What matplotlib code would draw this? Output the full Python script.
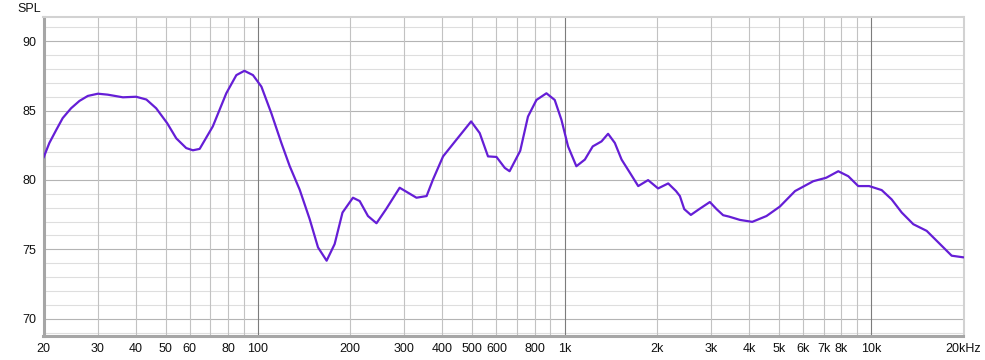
import matplotlib
matplotlib.use("Agg")
import matplotlib.pyplot as plt

# frequency response (Hz, dB SPL)
freq = [20, 20.9, 22.0, 23.1, 24.6, 26.2, 27.9, 30.1, 32.4, 36.3, 40.1, 43.3,
        46.6, 50.6, 54.2, 58.4, 61.4, 64.6, 71.3, 78.9, 85.1, 90.4, 96.4,
        102.7, 110.7, 119.3, 127, 136.9, 147.6, 157.1, 167.6, 178, 188.8,
        204.2, 214.8, 228.6, 243.7, 262, 290, 308.9, 329, 355, 372.6, 401.8,
        444, 496, 529, 563, 600, 638.6, 662, 717, 760, 810, 873, 929, 977,
        1027, 1093, 1165, 1236, 1320, 1387, 1459, 1535, 1634, 1739, 1873,
        2019, 2178, 2310, 2378, 2457, 2582, 2750, 2978, 3131, 3290, 3437,
        3733, 4094, 4556, 5036, 5646, 6473, 7134, 7810, 8420, 9074, 9846,
        10820, 11660, 12580, 13720, 15170, 16760, 18300, 20000]
spl = [81.6, 82.67, 83.6, 84.46, 85.17, 85.7, 86.06, 86.22, 86.15, 85.96, 86.0,
       85.8, 85.17, 84.1, 83.0, 82.3, 82.14, 82.24, 83.86, 86.25, 87.56, 87.87,
       87.56, 86.73, 84.8, 82.67, 81.0, 79.3, 77.17, 75.14, 74.18, 75.38,
       77.65, 78.72, 78.48, 77.4, 76.88, 77.9, 79.44, 79.08, 78.72, 78.84,
       80.04, 81.7, 82.9, 84.22, 83.38, 81.7, 81.66, 80.87, 80.63, 82.1, 84.57,
       85.77, 86.25, 85.77, 84.34, 82.42, 80.99, 81.47, 82.42, 82.78, 83.33,
       82.67, 81.47, 80.52, 79.56, 79.99, 79.39, 79.75, 79.2, 78.84, 77.9,
       77.48, 77.9, 78.41, 77.9, 77.46, 77.36, 77.12, 76.98, 77.4, 78.08,
       79.2, 79.91, 80.16, 80.63, 80.27, 79.56, 79.56, 79.27, 78.6, 77.65,
       76.81, 76.33, 75.38, 74.54, 74.42]

xtick_pos = [20, 30, 40, 50, 60, 80, 100, 200, 300, 400, 500, 600, 800,
             1000, 2000, 3000, 4000, 5000, 6000, 7000, 8000, 10000, 20000]
xtick_lbl = ["20", "30", "40", "50", "60", "80", "100", "200", "300", "400",
             "500", "600", "800", "1k", "2k", "3k", "4k", "5k", "6k", "7k",
             "8k", "10k", "20kHz"]
ytick_pos = [70, 75, 80, 85, 90]

plt.rcParams["font.family"] = ["Liberation Sans", "DejaVu Sans"]
plt.rcParams["font.size"] = 9

fig = plt.figure(figsize=(9.85, 3.6), dpi=100)
ax = fig.add_axes([43.5 / 985, 24 / 360, 920 / 985, 319 / 360])
ax.set_xscale("log")
ax.set_xlim(20, 20000)
ax.set_ylim(68.75, 91.75)

# grid: every 1..9 per decade, darker on decades
for dec in [10, 100, 1000, 10000]:
    for m in range(1, 10):
        f = dec * m
        if 20 < f < 20000:
            c = "#7c7c7c" if m == 1 else "#c2c2c2"
            ax.axvline(f, color=c, lw=0.8, zorder=1)
for v in range(69, 92):
    c = "#b4b4b4" if v % 5 == 0 else "#dedede"
    ax.axhline(v, color=c, lw=0.8, zorder=0)

ax.plot(freq, spl, color="#651ed6", lw=1.6, zorder=3,
        solid_joinstyle="round", solid_capstyle="round")

ax.set_xticks(xtick_pos)
ax.set_xticklabels(xtick_lbl)
ax.xaxis.set_minor_locator(matplotlib.ticker.NullLocator())
ax.set_yticks(ytick_pos)
ax.tick_params(length=0, pad=5, labelcolor="#111111")

for s in ["left", "bottom"]:
    ax.spines[s].set_color("#a6a6a6")
    ax.spines[s].set_linewidth(2.2)
for s in ["top", "right"]:
    ax.spines[s].set_color("#d2d2d2")
    ax.spines[s].set_linewidth(1.5)

fig.text(17 / 985, 1 - 8.5 / 360, "SPL", ha="left", va="center", fontsize=9,
         color="#111111")

fig.savefig("out.png", dpi=100)
